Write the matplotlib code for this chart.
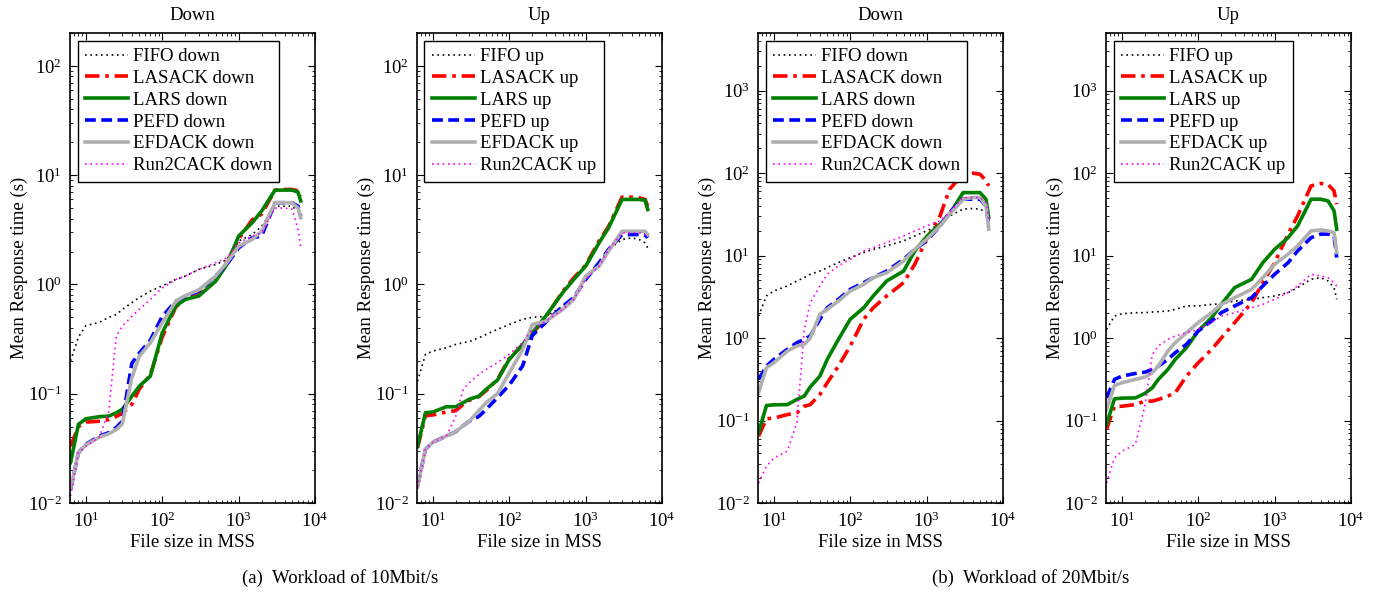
import matplotlib
matplotlib.use("Agg")
import matplotlib.pyplot as plt
import matplotlib.ticker as mticker

plt.rcParams['font.family'] = 'serif'
plt.rcParams['font.serif'] = ['Liberation Serif', 'DejaVu Serif']
plt.rcParams['mathtext.fontset'] = 'stix'

# file sizes (MSS) shared by every curve
file_size = [6.3, 8, 10, 15, 20, 25, 30, 40, 50, 70, 100, 150, 200, 300, 500, 700,
             1000, 1500, 2000, 3000, 4000, 5000, 6000, 6500]

# (a) 10 Mbit/s, down
down10_fifo = [0.2, 0.33, 0.42, 0.45, 0.50, 0.53, 0.59, 0.68, 0.76, 0.87, 0.97, 1.11, 1.19, 1.37,
               1.52, 1.69, 2.49, 2.86, 3.4, 5.2, 5.2, 5.2, 4.7, 4.1]
down10_lasack = [0.033, 0.05, 0.055, 0.056, 0.058, 0.062, 0.066, 0.08, 0.11, 0.15, 0.33, 0.62, 0.74,
                 0.80, 1.1, 1.6, 2.6, 3.9, 4.4, 7.3, 7.4, 7.4, 7.2, 6.4]
down10_lars = [0.0234, 0.0525, 0.059, 0.0616, 0.0625, 0.067, 0.072, 0.095, 0.117, 0.145, 0.361, 0.634,
               0.729, 0.782, 1.07, 1.52, 2.77, 3.66, 4.69, 7.3, 7.3, 7.3, 7.0, 5.8]
down10_pefd = [0.0133, 0.0289, 0.0344, 0.041, 0.044, 0.049, 0.056, 0.19, 0.235, 0.31, 0.51, 0.70,
               0.78, 0.87, 1.19, 1.52, 2.16, 2.67, 2.77, 5.6, 5.6, 5.6, 5.2, 4.2]
down10_efdack = [0.0135, 0.029, 0.034, 0.04, 0.043, 0.047, 0.053, 0.14, 0.22, 0.293, 0.446, 0.70,
                 0.79, 0.89, 1.19, 1.58, 2.24, 2.58, 3.07, 5.6, 5.6, 5.6, 5.0, 4.07]
down10_run2 = [0.0116, 0.029, 0.033, 0.04, 0.07, 0.337, 0.416, 0.51, 0.59, 0.73, 0.93, 1.11, 1.19,
               1.37, 1.58, 1.75, 2.4, 2.77, 2.97, 5.0, 5.0, 4.9, 3.2, 2.24]

# (a) 10 Mbit/s, up
up10_fifo = [0.13, 0.229, 0.246, 0.263, 0.283, 0.293, 0.30, 0.325, 0.349, 0.388, 0.43, 0.48, 0.50,
             0.51, 0.63, 0.76, 1.19, 1.58, 2.09, 2.58, 2.67, 2.58, 2.4, 2.16]
up10_lasack = [0.032, 0.063, 0.064, 0.068, 0.07, 0.08, 0.087, 0.094, 0.107, 0.135, 0.21, 0.28, 0.35,
               0.50, 0.86, 1.15, 1.5, 2.5, 3.4, 6.3, 6.3, 6.2, 6.0, 5.2]
up10_lars = [0.033, 0.067, 0.068, 0.076, 0.076, 0.083, 0.089, 0.095, 0.11, 0.133, 0.206, 0.283, 0.361,
             0.513, 0.84, 1.11, 1.47, 2.4, 3.3, 6.0, 6.0, 6.0, 5.9, 4.85]
up10_pefd = [0.0143, 0.031, 0.036, 0.041, 0.045, 0.051, 0.056, 0.062, 0.072, 0.092, 0.12, 0.18, 0.34,
             0.45, 0.63, 0.76, 1.11, 1.58, 2.09, 2.86, 2.86, 2.86, 2.86, 2.67]
up10_efdack = [0.014, 0.031, 0.036, 0.041, 0.045, 0.051, 0.056, 0.07, 0.083, 0.10, 0.155, 0.254, 0.43,
               0.46, 0.59, 0.73, 1.19, 1.47, 2.02, 3.07, 3.07, 3.07, 3.07, 2.86]
up10_run2 = [0.0139, 0.031, 0.036, 0.041, 0.0625, 0.11, 0.126, 0.15, 0.167, 0.192, 0.23, 0.293, 0.388,
             0.46, 0.59, 0.73, 1.11, 1.47, 2.09, 2.97, 2.97, 2.97, 2.86, 2.77]

# (b) 20 Mbit/s, down
down20_fifo = [1.85, 3.24, 3.72, 4.28, 4.92, 5.4, 5.93, 6.5, 7.15, 8.23, 9.45, 10.9, 11.9, 13.1, 15.1,
               17.3, 19.9, 24, 30.3, 36.6, 37.2, 36.6, 33.3, 29]
down20_lasack = [0.0645, 0.105, 0.107, 0.118, 0.124, 0.149, 0.156, 0.207, 0.287, 0.457, 0.80, 1.69,
                 2.33, 3.24, 4.7, 7.85, 15.8, 30.3, 64, 97, 100, 97, 81, 70]
down20_lars = [0.0708, 0.152, 0.155, 0.156, 0.18, 0.198, 0.256, 0.345, 0.551, 0.963, 1.69, 2.33, 3.24,
               4.92, 6.5, 11.4, 17.0, 24, 31.8, 58, 58, 58, 48, 29]
down20_pefd = [0.315, 0.457, 0.551, 0.73, 0.878, 0.963, 1.06, 1.69, 2.33, 2.95, 3.9, 4.7, 5.4, 6.5,
               9.0, 11.9, 15.1, 22.9, 33.3, 48.3, 48.3, 48.3, 40, 24]
down20_efdack = [0.217, 0.436, 0.502, 0.695, 0.80, 0.838, 1.0, 1.94, 2.23, 2.81, 3.72, 4.48, 5.4, 6.2,
                 8.6, 11.9, 15.8, 22.9, 31.8, 48, 50.6, 50.6, 40, 20.9]
down20_run2 = [0.0175, 0.0279, 0.0352, 0.0425, 0.094, 1.27, 2.69, 4.28, 5.93, 7.5, 9.0, 11.4, 12.5,
               14.4, 17.3, 19.9, 22.9, 26.4, 33.3, 50.6, 50.6, 50.6, 44, 27.6]

# (b) 20 Mbit/s, up
up20_fifo = [1.27, 1.85, 1.97, 2.03, 2.03, 2.07, 2.09, 2.13, 2.23, 2.45, 2.45, 2.56, 2.61, 2.81, 2.95,
             3.09, 3.24, 3.55, 4.09, 5.16, 5.4, 4.92, 4.09, 2.95]
up20_lasack = [0.0778, 0.149, 0.149, 0.156, 0.172, 0.172, 0.18, 0.198, 0.217, 0.345, 0.502, 0.73, 1.0,
               1.54, 2.69, 4.7, 8.2, 18.2, 30.3, 70, 74.9, 73, 61, 42]
up20_lars = [0.0894, 0.183, 0.187, 0.188, 0.213, 0.249, 0.315, 0.416, 0.551, 0.763, 1.22, 1.77, 2.56,
             4.09, 5.16, 8.2, 11.9, 16.5, 22.9, 48.3, 48.3, 46, 34.9, 20.9]
up20_pefd = [0.188, 0.315, 0.345, 0.372, 0.386, 0.416, 0.457, 0.551, 0.664, 0.838, 1.22, 1.61, 2.03,
             2.45, 3.09, 4.28, 5.93, 8.2, 11.4, 16.5, 18.2, 18.2, 17.4, 9.45]
up20_efdack = [0.136, 0.266, 0.287, 0.315, 0.336, 0.379, 0.457, 0.695, 0.878, 1.16, 1.54, 2.03, 2.56,
               3.09, 3.9, 5.4, 7.85, 10.4, 13.1, 19.9, 20.5, 19.9, 19, 10.9]
up20_run2 = [0.0175, 0.0352, 0.0425, 0.0511, 0.149, 0.633, 0.80, 0.963, 1.06, 1.16, 1.27, 1.54, 1.85,
             2.03, 2.33, 2.56, 2.95, 3.55, 4.28, 5.93, 5.66, 5.4, 4.7, 4.28]

schemes = ['FIFO', 'LASACK', 'LARS', 'PEFD', 'EFDACK', 'Run2CACK']
styles = [
    dict(color='black', lw=1.2, ls=(0, (1, 2.2))),
    dict(color='red', lw=2.6, ls=(0, (4, 1.6, 1, 1.6))),
    dict(color='#008000', lw=2.6, ls='-'),
    dict(color='blue', lw=2.6, ls=(0, (3, 1.5))),
    dict(color='#b0b0b0', lw=2.6, ls='-'),
    dict(color='magenta', lw=1.2, ls=(0, (1, 2.2))),
]

panels = [
    ('Down', 'down', [down10_fifo, down10_lasack, down10_lars, down10_pefd, down10_efdack, down10_run2], 200),
    ('Up', 'up', [up10_fifo, up10_lasack, up10_lars, up10_pefd, up10_efdack, up10_run2], 200),
    ('Down', 'down', [down20_fifo, down20_lasack, down20_lars, down20_pefd, down20_efdack, down20_run2], 5000),
    ('Up', 'up', [up20_fifo, up20_lasack, up20_lars, up20_pefd, up20_efdack, up20_run2], 5000),
]

fig = plt.figure(figsize=(13.82, 5.97), dpi=100)
lefts = [70, 417, 758, 1106]
fs = 13.5

for k, (title, word, series, ytop) in enumerate(panels):
    ax = fig.add_axes([lefts[k] / 1382, (597 - 503) / 597, 245 / 1382, 470 / 597])
    for i in range(len(schemes)):
        st = styles[i]
        ax.plot(file_size, series[i], label=schemes[i] + ' ' + word, color=st['color'],
                lw=st['lw'], linestyle=st['ls'])
    ax.set_xscale('log')
    ax.set_yscale('log')
    ax.set_xlim(6.2, 1e4)
    ax.set_ylim(0.01, ytop)
    ax.xaxis.set_major_locator(mticker.LogLocator(base=10, numticks=10))
    ax.yaxis.set_major_locator(mticker.LogLocator(base=10, numticks=10))
    ax.xaxis.set_minor_locator(mticker.LogLocator(base=10, subs=range(2, 10), numticks=20))
    ax.yaxis.set_minor_locator(mticker.LogLocator(base=10, subs=range(2, 10), numticks=20))
    ax.yaxis.set_minor_formatter(mticker.NullFormatter())
    ax.xaxis.set_minor_formatter(mticker.NullFormatter())
    ax.tick_params(which='both', direction='in', top=True, right=True, labelsize=fs, pad=6)
    ax.tick_params(which='major', length=5)
    ax.tick_params(which='minor', length=2.5)
    for sp in ax.spines.values():
        sp.set_linewidth(1.2)
    ax.set_title(title, fontsize=fs, pad=9)
    ax.set_xlabel('File size in MSS', fontsize=fs, labelpad=2)
    ax.set_ylabel('Mean Response time (s)', fontsize=fs, labelpad=0)
    leg = ax.legend(loc='upper left', fontsize=fs, frameon=True, fancybox=False,
                    edgecolor='black', framealpha=1, handlelength=2.3, handletextpad=0.25,
                    labelspacing=0.25, borderpad=0.4, borderaxespad=0.4)
    leg.get_frame().set_linewidth(1.0)

fig.text(340 / 1382, 1 - 578 / 597, '(a)  Workload of 10Mbit/s', ha='center', va='center', fontsize=fs)
fig.text(1031 / 1382, 1 - 578 / 597, '(b)  Workload of 20Mbit/s', ha='center', va='center', fontsize=fs)

fig.savefig('out.png', dpi=100)
